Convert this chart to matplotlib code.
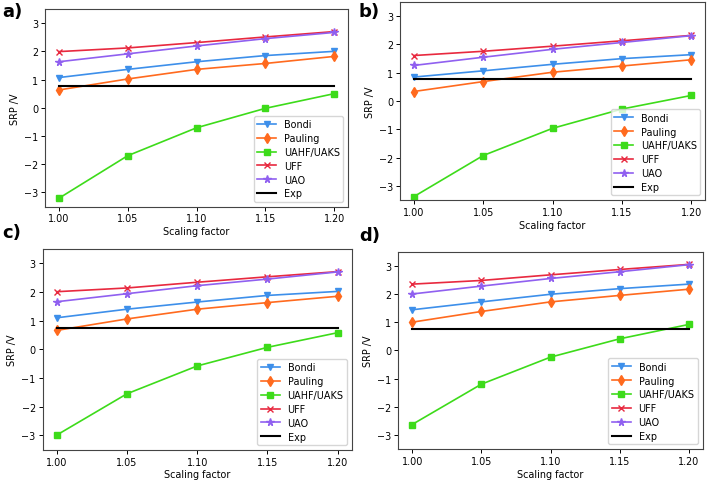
"""
SRP vs scaling factor for four systems (panels a-d)
"""

import matplotlib
matplotlib.use("Agg")
import matplotlib.pyplot as plt

# scaling factors (x axis)
scaling = [1.00, 1.05, 1.10, 1.15, 1.20]
xtick_labels = ["1.00", "1.05", "1.10", "1.15", "1.20"]

# series
bondi_a = [1.07, 1.36, 1.63, 1.85, 2.00]
pauling_a = [0.63, 1.02, 1.36, 1.57, 1.82]
uahf_a = [-3.21, -1.70, -0.71, -0.02, 0.50]
uff_a = [1.99, 2.12, 2.31, 2.51, 2.70]
uao_a = [1.63, 1.91, 2.19, 2.45, 2.67]
exp_a = 0.76

bondi_b = [0.84, 1.06, 1.29, 1.49, 1.63]
pauling_b = [0.33, 0.68, 1.01, 1.23, 1.45]
uahf_b = [-3.38, -1.93, -0.97, -0.29, 0.19]
uff_b = [1.60, 1.75, 1.93, 2.12, 2.31]
uao_b = [1.25, 1.54, 1.82, 2.06, 2.30]
exp_b = 0.77

bondi_c = [1.10, 1.40, 1.65, 1.88, 2.02]
pauling_c = [0.66, 1.06, 1.40, 1.63, 1.85]
uahf_c = [-2.99, -1.55, -0.58, 0.07, 0.58]
uff_c = [2.01, 2.14, 2.34, 2.53, 2.71]
uao_c = [1.66, 1.94, 2.22, 2.45, 2.70]
exp_c = 0.76

bondi_d = [1.44, 1.72, 1.99, 2.19, 2.35]
pauling_d = [1.00, 1.38, 1.72, 1.95, 2.17]
uahf_d = [-2.63, -1.20, -0.24, 0.41, 0.92]
uff_d = [2.35, 2.48, 2.68, 2.87, 3.05]
uao_d = [2.00, 2.28, 2.55, 2.79, 3.04]
exp_d = 0.77

panel_labels = ["a)", "b)", "c)", "d)"]
series_names = ["Bondi", "Pauling", "UAHF/UAKS", "UFF", "UAO", "Exp"]

colors = ["#3d8fea", "#ff6a1e", "#3ddb1a", "#e8293f", "#9060f0", "black"]
markers = ["v", "d", "s", "x", "*", None]
msizes = [5, 5, 5, 5, 5.5, 0]

panels = [
    (bondi_a, pauling_a, uahf_a, uff_a, uao_a, exp_a),
    (bondi_b, pauling_b, uahf_b, uff_b, uao_b, exp_b),
    (bondi_c, pauling_c, uahf_c, uff_c, uao_c, exp_c),
    (bondi_d, pauling_d, uahf_d, uff_d, uao_d, exp_d),
]

# axes boxes in figure fraction (left, bottom, width, height)
boxes = [
    [0.0635, 0.5686, 0.4274, 0.4106],
    [0.5642, 0.5821, 0.4302, 0.4123],
    [0.0602, 0.0630, 0.4358, 0.4173],
    [0.5618, 0.0644, 0.4293, 0.4102],
]
label_pos = [(0.003, 0.975), (0.505, 0.975), (0.003, 0.515), (0.507, 0.510)]

fs = 6.9

fig = plt.figure(figsize=(7.09, 4.81), dpi=100)

for k, data in enumerate(panels):
    ax = fig.add_axes(boxes[k])
    for i in range(5):
        ax.plot(scaling, data[i], color=colors[i], marker=markers[i],
                markersize=msizes[i], linewidth=1.2, label=series_names[i])
    ax.plot(scaling, [data[5]] * len(scaling), color="black", linewidth=1.5,
            label=series_names[5])

    ax.set_ylim(-3.5, 3.5)
    ax.set_xticks(scaling)
    ax.set_xticklabels(xtick_labels)
    ax.set_yticks([-3, -2, -1, 0, 1, 2, 3])
    ax.set_yticklabels(["\u22123", "\u22122", "\u22121", "0", "1", "2", "3"])
    ax.tick_params(labelsize=fs, length=3, width=0.7, pad=2)
    ax.set_xlabel("Scaling factor", fontsize=fs, labelpad=2)
    ax.set_ylabel("SRP /V", fontsize=fs, labelpad=3)
    for sp in ax.spines.values():
        sp.set_linewidth(0.8)
        sp.set_color("#444444")

    ax.legend(loc="lower right", fontsize=fs, handlelength=2.0,
              borderpad=0.35, labelspacing=0.4, framealpha=0.8,
              edgecolor="#cccccc", fancybox=True)

    fig.text(label_pos[k][0], label_pos[k][1], panel_labels[k],
             fontsize=13, fontweight="bold", ha="left", va="center")

fig.savefig("out.png", dpi=100)
